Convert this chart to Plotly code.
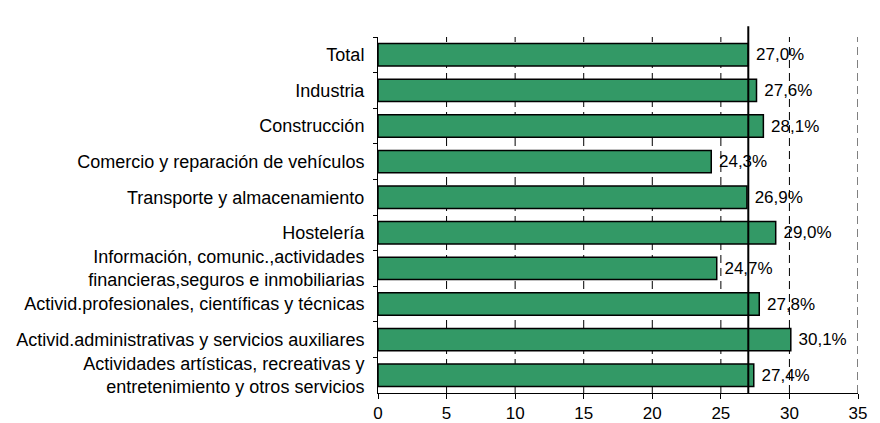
import plotly.graph_objects as go

sectores = [
    "Total",
    "Industria",
    "Construcción",
    "Comercio y reparación de vehículos",
    "Transporte y almacenamiento",
    "Hostelería",
    "Información, comunic.,actividades<br>financieras,seguros e inmobiliarias",
    "Activid.profesionales, científicas y técnicas",
    "Activid.administrativas y servicios auxiliares",
    "Actividades artísticas, recreativas y<br>entretenimiento y otros servicios",
]
porcentaje = [27.0, 27.6, 28.1, 24.3, 26.9, 29.0, 24.7, 27.8, 30.1, 27.4]
x_ticks = [0, 5, 10, 15, 20, 25, 30, 35]
referencia = porcentaje[0]

etiquetas = ["\u00a0" + f"{v:.1f}%".replace(".", ",") for v in porcentaje]

fig = go.Figure()
fig.add_trace(go.Bar(
    y=sectores, x=porcentaje, orientation="h",
    marker=dict(color="#339966", line=dict(color="black", width=1.5)),
    text=etiquetas, textposition="outside",
    textfont=dict(family="Liberation Sans", size=17, color="black"),
    cliponaxis=False,
))

# rejilla discontinua por debajo de las barras
for v in x_ticks[1:]:
    fig.add_vline(x=v, line=dict(color="black", width=1, dash="8px,5px"), layer="below")

# linea vertical del total
fig.add_shape(type="line", xref="x", yref="paper", x0=referencia, x1=referencia,
              y0=0, y1=1.03, line=dict(color="black", width=2), layer="above")

# la pagina tiene 8px de margen en el body
fig.update_layout(
    width=872, height=415,
    margin=dict(l=370, r=22, t=29, b=30),
    paper_bgcolor="white", plot_bgcolor="white",
    font=dict(family="Liberation Sans", size=17, color="black"),
    bargap=0.37,
    showlegend=False,
)
fig.update_xaxes(
    range=[0, 35], tickvals=x_ticks, showgrid=False, zeroline=False,
    showline=True, linecolor="black", linewidth=1,
    ticks="outside", ticklen=5, tickcolor="black", automargin=False,
)
fig.update_yaxes(
    autorange="reversed", tickson="boundaries", ticks="outside", ticklen=4,
    tickcolor="black", showline=True, linecolor="black", linewidth=1,
    showgrid=False, ticklabelstandoff=9, automargin=False,
    tickfont=dict(size=18),
)

fig.write_html("out.html")
